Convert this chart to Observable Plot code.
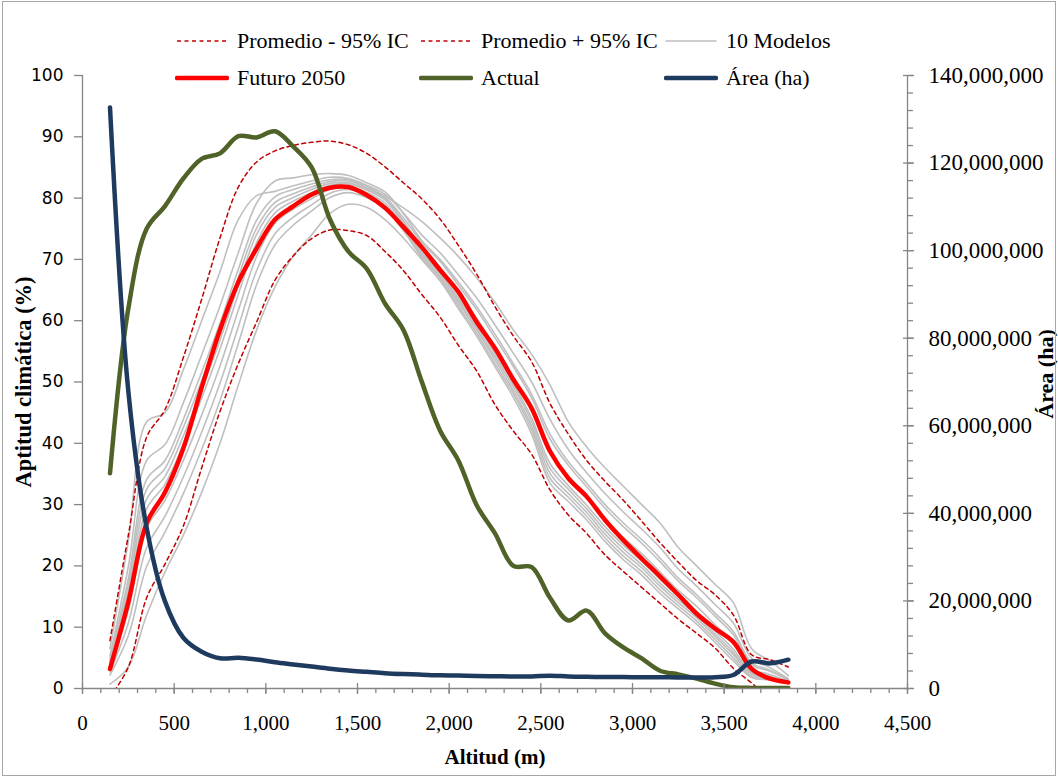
<!DOCTYPE html>
<html>
<head>
<meta charset="utf-8">
<script src="https://cdn.jsdelivr.net/npm/d3@7"></script>
<script src="https://cdn.jsdelivr.net/npm/@observablehq/plot@0.6"></script>
<style>
  html, body { margin: 0; padding: 0; background: #fff; }
  #wrap { position: relative; width: 1058px; height: 778px; overflow: hidden; background: #fff; }
  #border { position: absolute; left: 2px; top: 1px; width: 1054px; height: 775px; border: 1px solid #a6a6a6; box-sizing: border-box; pointer-events: none; }
  .lg { position: absolute; display: flex; align-items: center; font-family: "Liberation Serif", serif; font-size: 22px; color: #000; white-space: nowrap; }
  .lg svg { margin-right: 8px; }
</style>
</head>
<body>
<div id="wrap"><div id="border"></div></div>
<script>
// ---------- data ----------
const altitudes = [150, 250, 350, 450, 550, 650, 750, 850, 950, 1050, 1150, 1250, 1350, 1450, 1550, 1650, 1750, 1850, 1950, 2050, 2150, 2250, 2350, 2450, 2550, 2650, 2750, 2850, 2950, 3050, 3150, 3250, 3350, 3450, 3550, 3650, 3750, 3850];

const futuro2050 = [3.2, 14.1, 27, 32, 39.2, 49.1, 58.5, 66.3, 71.8, 76.5, 78.7, 80.6, 81.7, 81.8, 80.5, 78.4, 75.3, 72.0, 68.3, 64.7, 59.8, 55.5, 50.4, 45.7, 38.7, 34.3, 31.3, 27.5, 24.2, 21.2, 18.3, 15.3, 12.2, 9.8, 7.6, 3.2, 1.6, 1.0];
const promedioMas = [7.8, 25, 41, 45.5, 54, 63.5, 73.5, 81.8, 85.9, 87.7, 88.6, 89.1, 89.3, 88.7, 87.3, 85.1, 82.5, 79.9, 76.6, 72.3, 67.6, 62.3, 57.5, 53.3, 46.5, 41.5, 37.2, 33.8, 30.7, 27.3, 23.8, 20.6, 17.6, 15.3, 12.0, 5.5, 4.7, 3.5];
const promedioMenos = [-1.4, 3.5, 14.8, 20.3, 26.5, 36, 45.2, 53, 59.8, 66.6, 70.6, 73.4, 74.8, 74.7, 73.9, 71.3, 68.2, 64.3, 60.6, 56.0, 51.8, 46.3, 42.0, 38.2, 32.4, 28.3, 25.3, 21.8, 19.1, 16.5, 13.9, 11.3, 9.0, 6.6, 3.3, 0.9, -1.5, -1.5];
const actual = [35.1, 62, 75, 78.7, 83.2, 86.4, 87.3, 90.1, 89.9, 90.9, 88.4, 85, 76.5, 71.3, 68.5, 62.8, 58.5, 50.1, 42.1, 37.2, 29.9, 25.3, 20.0, 19.8, 14.8, 11.1, 12.7, 9.0, 6.7, 4.9, 2.9, 2.3, 1.6, 0.8, 0.2, 0.1, 0.1, 0.1];
const areaHa = [132700000, 67900000, 36700000, 19900000, 11600000, 8400000, 6900000, 7000000, 6600000, 6000000, 5500000, 5000000, 4500000, 4100000, 3800000, 3500000, 3300000, 3150000, 3000000, 2950000, 2870000, 2800000, 2730000, 2730000, 2940000, 2730000, 2660000, 2650000, 2600000, 2590000, 2580000, 2520000, 2520000, 2590000, 3080000, 6160000, 5740000, 6580000];

const modelo1 = [6.5, 24, 43.5, 45, 52, 60, 68, 76.5, 80.4, 81.1, 82.0, 82.8, 83.4, 83.2, 82.1, 80.6, 77.6, 74.0, 71.1, 67.5, 63.7, 59.3, 54.7, 50.0, 43.9, 39.0, 35.2, 31.8, 28.8, 26.0, 23.0, 19.5, 16.7, 13.7, 10.7, 4.9, 3.4, 1.6];
const modelo2 = [5.3, 19.9, 37.2, 39.8, 46.6, 54.4, 62.4, 71.1, 79.2, 82.8, 83.3, 83.8, 84, 83.7, 82.5, 81, 77.5, 73.1, 70.0, 66.3, 62.3, 57.8, 53.0, 48.0, 41.5, 37.0, 33.5, 30.0, 27.0, 24.3, 21.3, 18.0, 15.3, 12.3, 9.3, 4.2, 3.0, 1.5];
const modelo3 = [4.8, 17.9, 34.1, 37.2, 43.9, 51.6, 59.6, 68.4, 76.4, 80.2, 81.4, 82.3, 83.0, 83.0, 81.9, 80.3, 78.4, 76.2, 73.5, 70.5, 67, 63, 58.5, 54.5, 49.5, 43.5, 39.4, 36, 33, 30, 27, 23, 20, 17, 14, 6.5, 4.5, 2.1];
const modelo4 = [4.2, 15.8, 30.9, 34.6, 41.2, 48.8, 56.8, 65.7, 74.1, 78.5, 80.1, 81.4, 82.4, 82.5, 81.5, 79.9, 76.3, 71.9, 68.6, 64.6, 60.4, 55.7, 50.8, 45.4, 38.3, 34.4, 31.1, 27.6, 24.6, 22.0, 19.0, 16.0, 13.4, 10.4, 7.4, 3.2, 2.3, 1.2];
const modelo5 = [3.9, 14.8, 29.3, 33.3, 39.8, 47.4, 55.4, 64.3, 72.8, 77.6, 79.5, 80.9, 82.1, 82.3, 81.3, 79.7, 75.9, 71.2, 67.9, 63.7, 59.4, 54.6, 49.7, 44.1, 36.7, 33.1, 29.9, 26.4, 23.4, 20.8, 17.8, 15.0, 12.4, 9.4, 6.4, 2.7, 2.0, 1.1];
const modelo6 = [4.5, 16.8, 32.5, 35.9, 42.6, 50.2, 58.2, 67.1, 75.1, 79.3, 80.7, 81.8, 82.7, 82.8, 81.7, 80.1, 76.8, 72.8, 69.7, 65.8, 61.8, 57.2, 52.5, 47.4, 40.7, 36.4, 32.9, 29.4, 26.4, 23.7, 20.7, 17.5, 14.8, 11.8, 8.8, 3.9, 2.8, 1.4];
const modelo7 = [3.3, 12.7, 26.2, 30.7, 37.2, 44.6, 52.6, 61.7, 70.5, 75.9, 78.2, 79.9, 81.4, 81.8, 80.9, 79.2, 75.5, 70.9, 67.6, 63.3, 58.9, 54.1, 49.2, 43.5, 35.9, 32.5, 29.3, 25.8, 22.8, 20.2, 17.2, 14.5, 11.9, 8.9, 5.9, 2.5, 1.9, 1.0];
const modelo8 = [2.2, 8.6, 19.9, 25.5, 31.8, 39, 47, 56.3, 65.9, 72.4, 75.6, 77.9, 80.1, 80.9, 80.1, 78.3, 74.7, 70.3, 66.9, 62.4, 58.0, 53.0, 48.1, 42.2, 34.3, 31.2, 28.1, 24.6, 21.6, 19.1, 16.1, 13.5, 11.0, 8.0, 5.0, 2.0, 1.6, 0.9];
const modelo9 = [2.7, 10.7, 23, 28.1, 34.5, 41.8, 49.8, 59, 68.2, 74.2, 76.9, 78.9, 80.8, 81.4, 80.5, 78.8, 75.1, 70.6, 67.2, 62.9, 58.5, 53.6, 48.6, 42.8, 35.1, 31.8, 28.7, 25.2, 22.2, 19.7, 16.7, 14.0, 11.5, 8.5, 5.5, 2.3, 1.7, 0.9];
const modelo10 = [0.7, 3.5, 12, 19, 25, 32, 40, 49.5, 58.5, 65.5, 70.5, 74, 77.5, 79, 78.5, 76.5, 73.5, 70, 66.5, 62, 57.5, 52.5, 47.5, 41.5, 33.5, 30.5, 27.5, 24, 21, 18.5, 15.5, 13, 10.5, 7.5, 4.5, 1.8, 1.4, 0.8];

const xTicks = [0, 500, 1000, 1500, 2000, 2500, 3000, 3500, 4000, 4500];
const yTicks = [0, 10, 20, 30, 40, 50, 60, 70, 80, 90, 100];
const areaTicks = [0, 20000000, 40000000, 60000000, 80000000, 100000000, 120000000, 140000000];

const legendLabels = ["Promedio - 95% IC", "Promedio + 95% IC", "10 Modelos", "Futuro 2050", "Actual", "Área (ha)"];
const titleX = "Altitud (m)";
const titleY = "Aptitud climática (%)";
const titleY2 = "Área (ha)";

// ---------- build ----------
const AREA_MAX = 140000000, Y_MAX = 100;
const toY = a => a * Y_MAX / AREA_MAX;           // area (ha) -> left scale
const fromY = y => y * AREA_MAX / Y_MAX;

const rows = altitudes.map((alt, i) => ({
  alt, fut: futuro2050[i], up: promedioMas[i], lo: promedioMenos[i], act: actual[i], area: toY(areaHa[i])
}));
const modelos = [modelo1, modelo2, modelo3, modelo4, modelo5, modelo6, modelo7, modelo8, modelo9, modelo10];
const grayLong = modelos.flatMap((m, k) => m.map((v, i) => ({alt: altitudes[i], v, model: k})));

const AX = "#868686";
const C = {dash: "#C00000", gray: "#BFBFBF", red: "#FF0000", green: "#4F6228", navy: "#1F3A5F"};
const fmt = d3.format(",");
const curve = "catmull-rom";

const chart = Plot.plot({
  width: 1058, height: 778,
  marginLeft: 82, marginRight: 151, marginTop: 75, marginBottom: 90,
  x: {domain: [0, 4500], label: null},
  y: {domain: [0, 100], label: null},
  style: {fontFamily: "'Liberation Serif', serif", fontSize: "21px", color: "#000", background: "transparent", overflow: "visible"},
  marks: [
    // models
    Plot.line(grayLong, {x: "alt", y: "v", z: "model", stroke: C.gray, strokeWidth: 1.6, curve, clip: true}),
    // CI
    Plot.line(rows, {x: "alt", y: "lo", stroke: C.dash, strokeWidth: 1.5, strokeDasharray: "4,3.5", curve, clip: true}),
    Plot.line(rows, {x: "alt", y: "up", stroke: C.dash, strokeWidth: 1.5, strokeDasharray: "4,3.5", curve, clip: true}),
    // mean
    Plot.line(rows, {x: "alt", y: "fut", stroke: C.red, strokeWidth: 4.5, strokeLinecap: "round", curve, clip: true}),
    // actual
    Plot.line(rows, {x: "alt", y: "act", stroke: C.green, strokeWidth: 4.5, strokeLinecap: "round", curve, clip: true}),
    // area
    Plot.line(rows, {x: "alt", y: "area", stroke: C.navy, strokeWidth: 4.5, strokeLinecap: "round", curve}),

    // axis lines
    Plot.ruleX([0], {stroke: AX, strokeWidth: 1.3}),
    Plot.ruleX([4500], {stroke: AX, strokeWidth: 1.3}),
    Plot.ruleY([0], {stroke: AX, strokeWidth: 1.3}),

    // x axis: minor ticks below, major ticks crossing, labels
    Plot.axisX({ticks: d3.range(0, 4501, 100), tickSize: 5, text: null, label: null, stroke: AX, strokeWidth: 1.3}),
    Plot.axisX({ticks: xTicks, tickSize: 11, dy: -5, text: null, label: null, stroke: AX, strokeWidth: 1.3}),
    Plot.axisX({ticks: xTicks, tickSize: 0, tickPadding: 27, tickFormat: fmt, fill: "#000", fontSize: 21, label: null}),

    // left y axis
    Plot.axisY({anchor: "left", ticks: yTicks, tickSize: 8, tickPadding: 11, stroke: AX, strokeWidth: 1.3, fill: "#000",
                fontFamily: "'DejaVu Sans', sans-serif", fontSize: 17, label: null}),

    // right y axis (area, ha)
    Plot.axisY({anchor: "right", ticks: d3.range(0, AREA_MAX + 1, 4000000).map(toY), tickSize: 5, text: null, label: null, stroke: AX, strokeWidth: 1.3}),
    Plot.axisY({anchor: "right", ticks: areaTicks.map(toY), tickSize: 11, dx: -5, text: null, label: null, stroke: AX, strokeWidth: 1.3}),
    Plot.axisY({anchor: "right", ticks: areaTicks.map(toY), tickSize: 0, tickPadding: 21, tickFormat: d => fmt(Math.round(fromY(d))),
                fill: "#000", fontSize: 23, label: null}),

    // axis titles
    Plot.text([titleX], {frameAnchor: "bottom", textAnchor: "middle", dy: 75, fontWeight: "bold", fontSize: 21}),
    Plot.text([titleY], {frameAnchor: "left", textAnchor: "middle", dx: -59, rotate: -90, fontWeight: "bold", fontSize: 22.5}),
    Plot.text([titleY2], {frameAnchor: "right", textAnchor: "middle", dx: 138, dy: -8, rotate: -90, fontWeight: "bold", fontSize: 22})
  ]
});

const wrap = document.getElementById("wrap");
chart.style.position = "absolute";
chart.style.left = "0px";
chart.style.top = "0px";
wrap.insertBefore(chart, wrap.firstChild);

// ---------- legend (HTML overlay) ----------
const legendStyles = [
  {stroke: C.dash, width: 1.5, dash: "4,3.5"},
  {stroke: C.dash, width: 1.5, dash: "4,3.5"},
  {stroke: C.gray, width: 1.6, dash: null},
  {stroke: C.red, width: 4.5, dash: null},
  {stroke: C.green, width: 4.5, dash: null},
  {stroke: C.navy, width: 4.5, dash: null}
];
const colX = [175, 419, 664];
const rowY = [41, 78];
legendLabels.forEach((label, i) => {
  const s = legendStyles[i];
  const item = document.createElement("div");
  item.className = "lg";
  item.style.left = colX[i % 3] + "px";
  item.style.top = (rowY[Math.floor(i / 3)] - 14) + "px";
  item.style.height = "28px";
  const ns = "http://www.w3.org/2000/svg";
  const sw = document.createElementNS(ns, "svg");
  sw.setAttribute("width", 54); sw.setAttribute("height", 10);
  const ln = document.createElementNS(ns, "line");
  ln.setAttribute("x1", 2); ln.setAttribute("x2", 52); ln.setAttribute("y1", 5); ln.setAttribute("y2", 5);
  ln.setAttribute("stroke", s.stroke); ln.setAttribute("stroke-width", s.width);
  ln.setAttribute("stroke-linecap", s.dash ? "butt" : "round");
  if (s.dash) ln.setAttribute("stroke-dasharray", s.dash);
  sw.appendChild(ln);
  item.appendChild(sw);
  const t = document.createElement("span");
  t.textContent = label;
  item.appendChild(t);
  wrap.appendChild(item);
});
</script>
</body>
</html>
